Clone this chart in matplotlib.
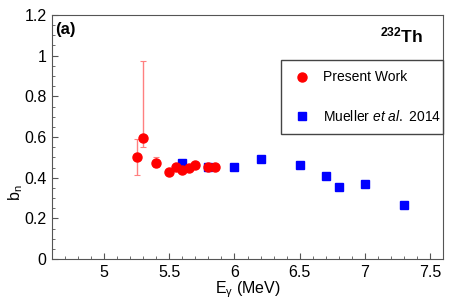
import matplotlib
matplotlib.use("Agg")
import matplotlib.pyplot as plt
from matplotlib.lines import Line2D
from matplotlib.ticker import MultipleLocator

plt.rcParams['font.family'] = ['Liberation Sans', 'DejaVu Sans']
plt.rcParams['mathtext.fontset'] = 'custom'
plt.rcParams['mathtext.rm'] = 'Liberation Sans'
plt.rcParams['mathtext.it'] = 'Liberation Sans:italic'
plt.rcParams['mathtext.bf'] = 'Liberation Sans:bold'

# present work
e_present = [5.25, 5.30, 5.40, 5.50, 5.55, 5.60, 5.65, 5.70, 5.80, 5.85]
bn_present = [0.503, 0.594, 0.474, 0.426, 0.454, 0.438, 0.448, 0.462, 0.454, 0.454]
err_lo_present = [0.090, 0.042, 0.020, 0.005, 0.005, 0.005, 0.005, 0.005, 0.005, 0.005]
err_hi_present = [0.086, 0.380, 0.029, 0.005, 0.005, 0.005, 0.005, 0.005, 0.005, 0.005]

# Mueller et al. 2014
e_mueller = [5.6, 5.8, 6.0, 6.2, 6.5, 6.7, 6.8, 7.0, 7.3]
bn_mueller = [0.470, 0.451, 0.454, 0.490, 0.462, 0.410, 0.356, 0.369, 0.266]
err_mueller = [0.008, 0.008, 0.008, 0.008, 0.008, 0.008, 0.008, 0.008, 0.016]

fig = plt.figure(figsize=(4.67, 2.99), dpi=100)
ax = fig.add_axes([52/467, 40/299, 391/467, 244/299])

ax.errorbar(e_mueller, bn_mueller, yerr=err_mueller, fmt='s', color='blue',
            ecolor='#6060ff', elinewidth=1, markersize=6, capsize=0, zorder=2)
ax.errorbar(e_present, bn_present, yerr=[err_lo_present, err_hi_present], fmt='o',
            color='red', ecolor='#ff8080', elinewidth=1, markersize=6.5, capsize=2,
            capthick=0.8, zorder=3)

ax.set_xlim(4.6, 7.6)
ax.set_ylim(0, 1.2)
ax.xaxis.set_minor_locator(MultipleLocator(0.1))
ax.yaxis.set_minor_locator(MultipleLocator(0.05))
ax.set_yticks([0, 0.2, 0.4, 0.6, 0.8, 1.0, 1.2])
ax.set_yticklabels(['0', '0.2', '0.4', '0.6', '0.8', '1', '1.2'])
ax.set_xticks([5, 5.5, 6, 6.5, 7, 7.5])
ax.set_xticklabels(['5', '5.5', '6', '6.5', '7', '7.5'])
ax.tick_params(which='both', direction='in', top=False, right=False, labelsize=11.5,
               color='#555555', pad=4)
ax.tick_params(which='major', length=4.5)
ax.tick_params(which='minor', length=2.3)
for s in ax.spines.values():
    s.set_color('#555555')

ax.set_xlabel('E$_{\\mathrm{\\gamma}}$ (MeV)', fontsize=11.5, labelpad=0)
ax.set_ylabel('b$_{\\mathrm{n}}$', fontsize=11.5)
ax.yaxis.set_label_coords(-0.068, 0.27)

ax.text(0.008, 0.97, '(a)', transform=ax.transAxes, fontsize=12, fontweight='bold',
        va='top', ha='left')
ax.text(0.949, 0.955, '$^{\\mathbf{232}}$Th', transform=ax.transAxes, fontsize=12.5,
        fontweight='bold', va='top', ha='right')

# legend handles: markers only
h_present = Line2D([], [], marker='o', color='red', linestyle='', markersize=6.5)
h_mueller = Line2D([], [], marker='s', color='blue', linestyle='', markersize=6)
leg = ax.legend([h_present, h_mueller], ['Present Work', 'Mueller $\\it{et\\ al.}\\ $2014'],
                loc='upper left',
                bbox_to_anchor=((281 - 52) / 391, (259 - 134) / 244, (443 - 281) / 391, 74 / 244),
                mode='expand', fontsize=10, frameon=True, fancybox=False,
                edgecolor='#444444', framealpha=1, borderaxespad=0, labelspacing=1.75,
                handletextpad=0.8, borderpad=0.75, handlelength=1.5)
leg.get_frame().set_linewidth(1)

fig.savefig('out.png', dpi=100)
